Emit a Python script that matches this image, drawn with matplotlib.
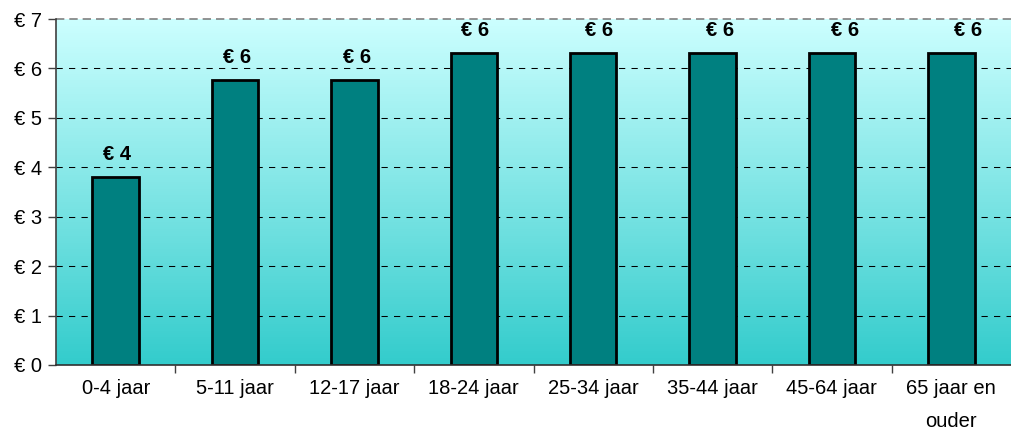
import matplotlib
matplotlib.use("Agg")
import matplotlib.pyplot as plt
import numpy as np
from matplotlib.colors import LinearSegmentedColormap

categories = ["0-4 jaar", "5-11 jaar", "12-17 jaar", "18-24 jaar", "25-34 jaar",
              "35-44 jaar", "45-64 jaar", "65 jaar en\nouder"]
values = [3.81, 5.77, 5.77, 6.32, 6.32, 6.32, 6.32, 6.32]
value_labels = ["€ 4", "€ 6", "€ 6", "€ 6", "€ 6", "€ 6", "€ 6", "€ 6"]
ytick_values = [0, 1, 2, 3, 4, 5, 6, 7]
ytick_labels = ["€ 0", "€ 1", "€ 2", "€ 3", "€ 4", "€ 5", "€ 6", "€ 7"]

plt.rcParams['font.family'] = ['Liberation Sans', 'DejaVu Sans']

W, H = 1011, 434
fig = plt.figure(figsize=(W / 100, H / 100), dpi=100)
ax = fig.add_axes([56 / W, (H - 365) / H, 955 / W, 346 / H])

n = len(categories)
x = np.arange(n)
ax.set_xlim(-0.5, n - 0.5)
ax.set_ylim(0, 7)

# gradient background
cmap = LinearSegmentedColormap.from_list("bg", ["#33cccc", "#ccffff"])
grad = np.linspace(0, 1, 256).reshape(-1, 1)
ax.imshow(grad, aspect='auto', cmap=cmap, origin='lower',
          extent=[-0.5, n - 0.5, 0, 7], zorder=0)

# gridlines
for v in ytick_values[1:-1]:
    ax.axhline(v, color='black', lw=0.75, dashes=(6, 6), zorder=1)
ax.axhline(7, color='#808080', lw=1.2, dashes=(5, 3), zorder=1, clip_on=False)

ax.bar(x, values, width=0.39, color='#008080', edgecolor='black', linewidth=2.0, zorder=2)

label_dx = [1.5, 2, 3, 1.5, 5.5, 8, 13, 17]
for xi, v, lab, dx in zip(x, values, value_labels, label_dx):
    ax.annotate(lab, (xi, v), xytext=(dx * 0.72, 12.3), textcoords='offset points',
                ha='center', va='baseline', fontsize=14.5, fontweight='bold', zorder=3)

ax.set_yticks(ytick_values)
ax.set_yticklabels(ytick_labels, fontsize=14.5)
ax.set_xticks(x)
ax.set_xticklabels(categories, fontsize=14.5, linespacing=1.95)
ax.tick_params(axis='x', length=0, pad=10)
ax.set_xticks(np.arange(0.5, n - 0.5, 1), minor=True)
ax.tick_params(axis='x', which='minor', length=6, width=1, color='#404040')
ax.tick_params(axis='y', length=6, width=1, color='#404040', pad=4)

for s in ['top', 'right']:
    ax.spines[s].set_visible(False)
ax.spines['left'].set_color('#404040')
ax.spines['left'].set_linewidth(1.2)
ax.spines['bottom'].set_color('#303030')
ax.spines['bottom'].set_linewidth(1.2)

fig.savefig("out.png", dpi=100)
